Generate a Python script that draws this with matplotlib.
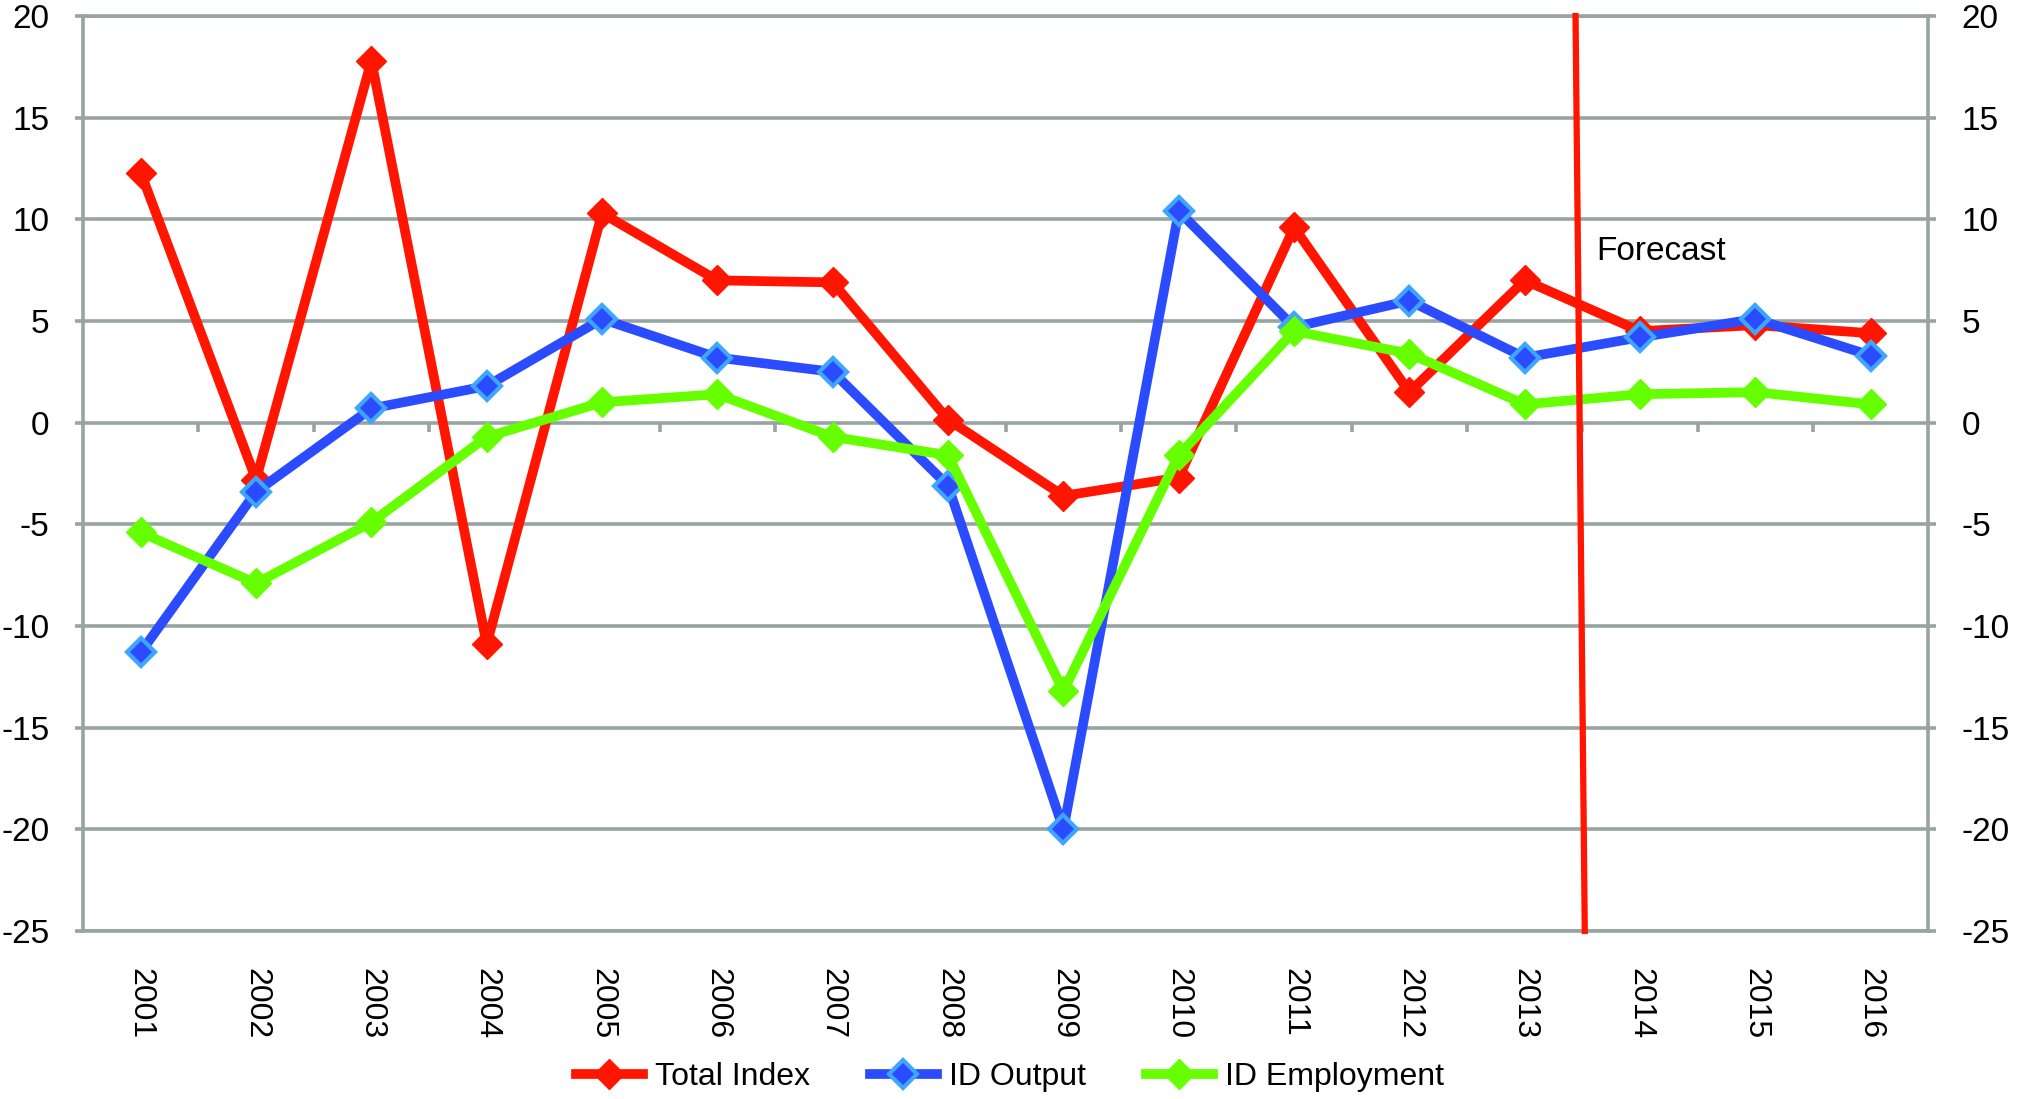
import matplotlib
matplotlib.use("Agg")
import matplotlib.pyplot as plt
import numpy as np

years = [str(y) for y in range(2001, 2017)]
total_index = [12.3, -2.8, 17.8, -10.9, 10.3, 7.0, 6.9, 0.15, -3.6, -2.7, 9.6, 1.5, 7.0, 4.5, 4.8, 4.4]
id_output = [-11.3, -3.4, 0.7, 1.8, 5.1, 3.2, 2.5, -3.1, -20.0, 10.4, 4.7, 6.0, 3.2, 4.2, 5.1, 3.3]
id_employment = [-5.4, -7.9, -4.9, -0.7, 1.0, 1.4, -0.7, -1.6, -13.2, -1.6, 4.5, 3.4, 0.9, 1.4, 1.5, 0.9]

# forecast divider (category units) and label
forecast_x = [12.44, 12.52]
forecast_y = [20, -25]
forecast_label = "Forecast"
forecast_label_pos = (12.62, 8.4)

y_ticks = list(range(-25, 21, 5))

plt.rcParams["font.family"] = ["Liberation Sans Narrow", "Liberation Sans", "DejaVu Sans"]

GRID = "#97a4a2"
RED = "#ff1500"
BLUE = "#2b4bff"
LIGHT_BLUE = "#3ea6ff"
GREEN = "#66ff00"

fig = plt.figure(figsize=(20.2, 10.99), dpi=100)
ax = fig.add_axes([0.0411, 0.1529, 0.9136, 0.8325])

x = np.arange(len(years))

ax.set_ylim(-25, 20)
ax.set_xlim(-0.5, len(years) - 0.5)
ax.set_yticks(y_ticks)
ax.set_yticklabels([str(t) for t in y_ticks])
ax.yaxis.grid(True, color=GRID, linewidth=2.6, zorder=0)
ax.set_axisbelow(True)

for name, spine in ax.spines.items():
    spine.set_color(GRID)
    spine.set_linewidth(2.6)

ax.tick_params(axis="y", which="both", left=True, right=True, labelleft=True, labelright=True,
               length=6, width=2.6, color=GRID, labelsize=24, pad=18)
ax.set_xticks(x)
ax.set_xticklabels(years, rotation=-90, fontsize=23)
ax.tick_params(axis="x", length=0, pad=27)

# small separator ticks on the zero line
ax.vlines(x[:-1] + 0.5, -0.45, 0, color=GRID, linewidth=2.6, zorder=1)

ax.plot(x, total_index, color=RED, linewidth=7, marker="D", markersize=15,
        markerfacecolor=RED, markeredgecolor=RED, label="Total Index", zorder=3)
ax.plot(x, id_output, color=BLUE, linewidth=7, marker="D", markersize=14,
        markerfacecolor=BLUE, markeredgecolor=LIGHT_BLUE, markeredgewidth=3,
        label="ID Output", zorder=4)
ax.plot(x, id_employment, color=GREEN, linewidth=7, marker="D", markersize=15,
        markerfacecolor=GREEN, markeredgecolor=GREEN, label="ID Employment", zorder=5)

ax.plot(forecast_x, forecast_y, color=RED, linewidth=4.5, zorder=6, clip_on=False)
ax.text(forecast_label_pos[0], forecast_label_pos[1], forecast_label, fontsize=24,
        ha="left", va="center", color="black")

handles, labels = ax.get_legend_handles_labels()
fig.legend(handles, labels, loc="center", bbox_to_anchor=(0.5, 0.02), ncol=3, frameon=False,
           fontsize=23, handlelength=2.1, handletextpad=0.4, columnspacing=1.85)

fig.savefig("out.png", dpi=100, facecolor="white")
